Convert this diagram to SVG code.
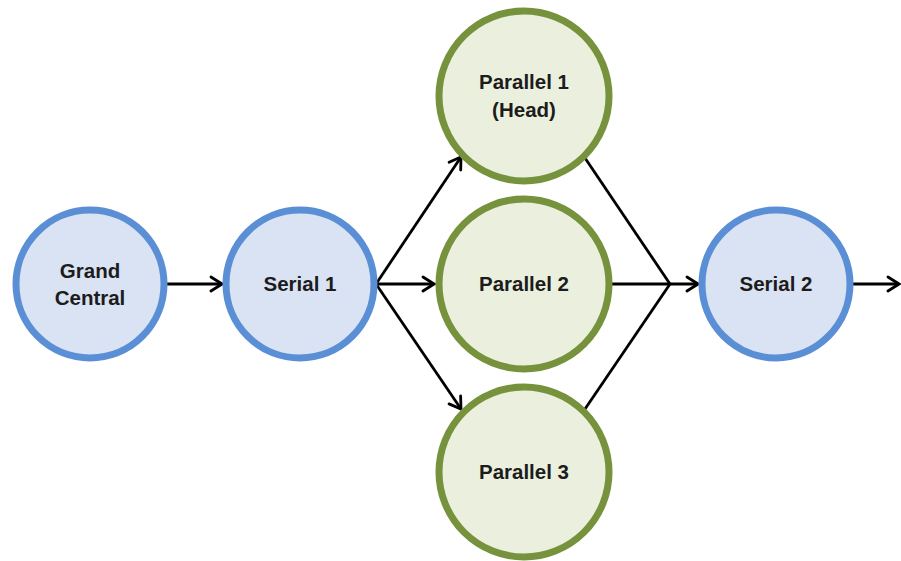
<svg xmlns="http://www.w3.org/2000/svg" width="901" height="561" viewBox="0 0 901 561">
<defs>
<marker id="arr" markerUnits="userSpaceOnUse" markerWidth="16" markerHeight="18" viewBox="-14 -9 16 18" refX="0" refY="0" orient="auto">
<path d="M-11,-7 L0,0 L-11,7" fill="none" stroke="#000" stroke-width="2.8" stroke-linecap="round" stroke-linejoin="miter"/>
</marker>
<style>
.blue{fill:#dae3f3;stroke:#5b8fd5;stroke-width:7}
.green{fill:#ebf0de;stroke:#76923c;stroke-width:7}
.lbl{font-family:"Liberation Sans",Arial,sans-serif;font-weight:bold;font-size:20.5px;fill:#1c1c1c;text-anchor:middle}
.ln{stroke:#000;stroke-width:2.8;fill:none}
</style>
</defs>
<rect width="901" height="561" fill="#fff"/>
<g id="connectors">
<line class="ln" x1="166" y1="284" x2="222" y2="284" marker-end="url(#arr)"/>
<line class="ln" x1="376" y1="284" x2="461" y2="157" marker-end="url(#arr)"/>
<line class="ln" x1="376" y1="284" x2="434" y2="284" marker-end="url(#arr)"/>
<line class="ln" x1="376" y1="284" x2="461" y2="409" marker-end="url(#arr)"/>
<line class="ln" x1="585" y1="158" x2="670" y2="284"/>
<line class="ln" x1="585" y1="409" x2="670" y2="284"/>
<line class="ln" x1="611" y1="284" x2="698" y2="284" marker-end="url(#arr)"/>
<line class="ln" x1="852" y1="284" x2="899" y2="284" marker-end="url(#arr)"/>
</g>
<g id="grand-central">
<circle class="blue" cx="90" cy="284" r="74"/>
<text class="lbl" x="90" y="278">Grand</text>
<text class="lbl" x="90" y="305">Central</text>
</g>
<g id="serial-1">
<circle class="blue" cx="300" cy="284" r="74"/>
<text class="lbl" x="300" y="291">Serial 1</text>
</g>
<g id="parallel-1">
<circle class="green" cx="524" cy="96" r="85"/>
<text class="lbl" x="524" y="89">Parallel 1</text>
<text class="lbl" x="524" y="117">(Head)</text>
</g>
<g id="parallel-2">
<circle class="green" cx="524" cy="284" r="85"/>
<text class="lbl" x="524" y="291">Parallel 2</text>
</g>
<g id="parallel-3">
<circle class="green" cx="524" cy="472" r="85"/>
<text class="lbl" x="524" y="479">Parallel 3</text>
</g>
<g id="serial-2">
<circle class="blue" cx="776" cy="284" r="74"/>
<text class="lbl" x="776" y="291">Serial 2</text>
</g>
</svg>
